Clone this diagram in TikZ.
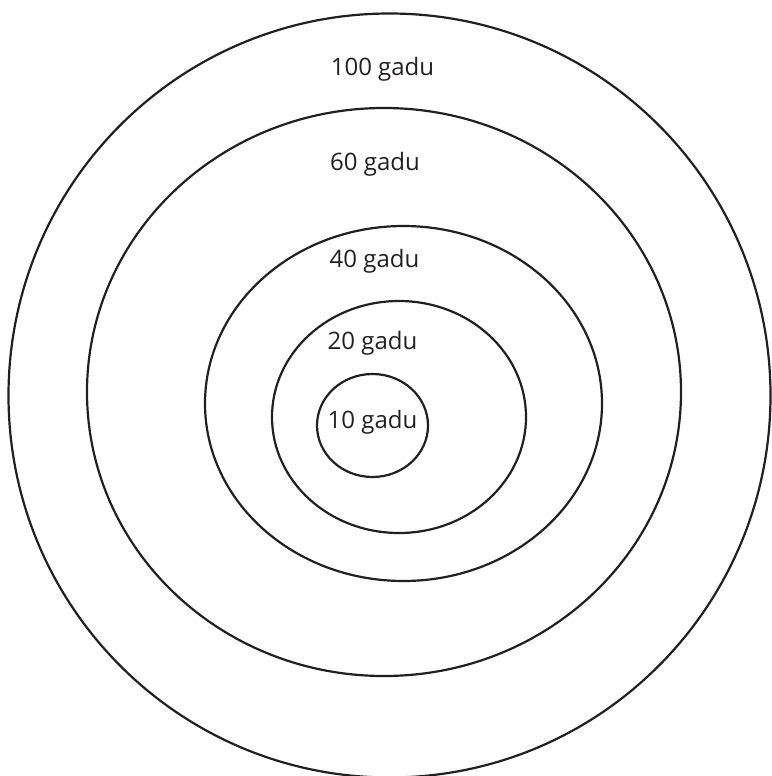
\documentclass[tikz,border=0pt]{standalone}
\usepackage{fontspec}
\setmainfont{Open Sans}
\usepackage{tikz}
\usetikzlibrary{positioning}
\definecolor{inkgray}{HTML}{231F20}

\begin{document}
\begin{tikzpicture}[x=0.5pt, y=-0.5pt,
    ring/.style={draw=inkgray, line width=1.1pt},
    zone/.style={anchor=base, text=inkgray, inner sep=0pt,
                 font=\fontsize{12pt}{14pt}\selectfont}]

    \useasboundingbox (0,0) rectangle (771,776);

    % Rings
    \draw[ring] (389.5,395.5) ellipse (381 and 382);
    \draw[ring] (384,392) ellipse (297 and 284);
    \draw[ring] (403.5,403.5) ellipse (198.5 and 177.5);
    \draw[ring] (399,417) ellipse (127 and 116);
    \draw[ring] (372.5,425.5) ellipse (55.5 and 51.5);

    % Labels
    \node[zone] (z100) at (382.5,75) {100 gadu};
    \node[zone] (z60) at (375,170) {60 gadu};
    \node[zone] (z40) at (374.5,267) {40 gadu};
    \node[zone] (z20) at (372.5,349) {20 gadu};
    \node[zone] (z10) at (372.5,428) {10 gadu};
\end{tikzpicture}
\end{document}
